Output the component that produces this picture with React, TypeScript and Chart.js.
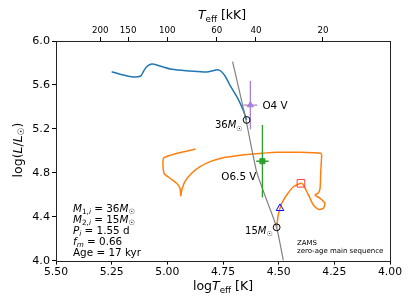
import React, { useEffect, useRef } from "react";
import { Chart, registerables } from "chart.js";

Chart.register(...registerables);

// ---- data ----
const blueTrackLogT = [5.250, 5.198, 5.153, 5.120, 5.108, 5.093, 5.070, 5.033, 4.980, 4.898, 4.823, 4.794, 4.776, 4.760, 4.741, 4.719, 4.688, 4.666, 4.651, 4.644];
const blueTrackLogL = [5.720, 5.690, 5.672, 5.681, 5.720, 5.766, 5.791, 5.772, 5.742, 5.727, 5.718, 5.730, 5.739, 5.727, 5.681, 5.599, 5.493, 5.402, 5.326, 5.281];

const orangeTrackLogT = [4.509, 4.502, 4.494, 4.486, 4.464, 4.434, 4.400, 4.389, 4.377, 4.359, 4.344, 4.322, 4.300, 4.292, 4.314, 4.337, 4.322, 4.314, 4.311, 4.307, 4.311, 4.404, 4.509, 4.629, 4.688, 4.749, 4.808, 4.853, 4.891, 4.921, 4.935, 4.940, 4.943, 4.958, 4.988, 5.015, 5.015, 4.873];
const orangeTrackLogL = [4.303, 4.415, 4.476, 4.522, 4.597, 4.673, 4.704, 4.689, 4.643, 4.567, 4.506, 4.467, 4.476, 4.522, 4.567, 4.597, 4.616, 4.658, 4.810, 4.962, 4.977, 4.986, 4.986, 4.968, 4.955, 4.937, 4.901, 4.855, 4.795, 4.719, 4.643, 4.591, 4.658, 4.704, 4.750, 4.795, 4.937, 5.016];

const zamsLogT = [4.707, 4.647, 4.599, 4.554, 4.509, 4.479];
const zamsLogL = [5.813, 5.281, 4.810, 4.552, 4.301, 4.000];

const primaryZamsPoint = [4.644, 5.281]; // 36 Msun
const secondaryZamsPoint = [4.509, 4.303]; // 15 Msun
const bluePointTL = [4.494, 4.476];
const redPointTL = [4.400, 4.704];

const starNames = ["O4 V", "O6.5 V"];
const starLogT = [4.627, 4.573];
const starLogL = [5.416, 4.905];
const starLogTErr = [0.031, 0.028];
const starLogLErr = [0.22, 0.33];
const starColors = ["#a880d6", "#2ca02c"];

const xTickStep = 0.25;
const yTickStep = 0.4;
const topTicksKK = [200, 150, 100, 60, 40, 20];

const FAM = '"DejaVu Sans", sans-serif';

type Seg = { t: string; it?: boolean; sub?: boolean };

function drawRich(ctx: CanvasRenderingContext2D, segs: Seg[], x: number, y: number, size: number, align: "left" | "right" | "center", color = "#000") {
  const fontFor = (s: Seg) => `${s.it ? "italic " : ""}${s.sub ? size * 0.7 : size}px ${FAM}`;
  let w = 0;
  for (const s of segs) {
    ctx.font = fontFor(s);
    w += ctx.measureText(s.t).width;
  }
  let cx = align === "left" ? x : align === "right" ? x - w : x - w / 2;
  ctx.fillStyle = color;
  ctx.textBaseline = "alphabetic";
  ctx.textAlign = "left";
  for (const s of segs) {
    ctx.font = fontFor(s);
    ctx.fillText(s.t, cx, s.sub ? y + size * 0.22 : y);
    cx += ctx.measureText(s.t).width;
  }
}

const toPts = (xs: number[], ys: number[]) => xs.map((x, i) => ({ x, y: ys[i] }));

export default function App() {
  const ref = useRef<HTMLCanvasElement>(null);
  useEffect(() => {
    if (!ref.current) return;
    const textPlugin = {
      id: "texts",
      afterDraw(chart: any) {
        const ctx = chart.ctx as CanvasRenderingContext2D;
        const xs = chart.scales.x;
        const ys = chart.scales.y;
        const ca = chart.chartArea;
        ctx.save();
        // frame
        ctx.strokeStyle = "#222";
        ctx.lineWidth = 1;
        ctx.strokeRect(Math.round(ca.left) + 0.5, Math.round(ca.top) + 0.5, Math.round(ca.right - ca.left), Math.round(ca.bottom - ca.top));

        const px = (t: number) => xs.getPixelForValue(t);
        const py = (l: number) => ys.getPixelForValue(l);

        // star labels
        drawRich(ctx, [{ t: starNames[0] }], px(starLogT[0]) + 12, py(starLogL[0]) + 4, 10.4, "left");
        drawRich(ctx, [{ t: starNames[1] }], px(starLogT[1]) - 6, py(starLogL[1]) + 15 + 4, 10.4, "right");

        // mass labels
        drawRich(ctx, [{ t: "36" }, { t: "M", it: true }, { t: "\u2609", sub: true }], px(primaryZamsPoint[0]) - 4, py(primaryZamsPoint[1]) + 8.5, 10, "right");
        drawRich(ctx, [{ t: "15" }, { t: "M", it: true }, { t: "\u2609", sub: true }], px(secondaryZamsPoint[0]) - 4, py(secondaryZamsPoint[1]) + 6.5, 10, "right");

        // ZAMS
        drawRich(ctx, [{ t: "ZAMS" }], 297, 244.5, 7, "left");
        drawRich(ctx, [{ t: "zero-age main sequence" }], 297, 252.5, 7, "left");

        // info box
        const bx = 73;
        const s = 10.4;
        drawRich(ctx, [{ t: "M", it: true }, { t: "1,", sub: true }, { t: "i", it: true, sub: true }, { t: " = 36" }, { t: "M", it: true }, { t: "\u2609", sub: true }], bx, 212, s, "left");
        drawRich(ctx, [{ t: "M", it: true }, { t: "2,", sub: true }, { t: "i", it: true, sub: true }, { t: " = 15" }, { t: "M", it: true }, { t: "\u2609", sub: true }], bx, 223, s, "left");
        drawRich(ctx, [{ t: "P", it: true }, { t: "i", it: true, sub: true }, { t: " = 1.55 d" }], bx, 234, s, "left");
        drawRich(ctx, [{ t: "f", it: true }, { t: "m", it: true, sub: true }, { t: " = 0.66" }], bx, 245, s, "left");
        drawRich(ctx, [{ t: "Age = 17 kyr" }], bx, 255.5, s, "left");

        // axis titles
        drawRich(ctx, [{ t: "log" }, { t: "T", it: true }, { t: "eff", sub: true }, { t: " [K]" }], 223, 290, 12.5, "center");
        drawRich(ctx, [{ t: "T", it: true }, { t: "eff", sub: true }, { t: " [kK]" }], 222, 19, 12.5, "center");
        ctx.save();
        ctx.translate(21.5, 150);
        ctx.rotate(-Math.PI / 2);
        drawRich(ctx, [{ t: "log(" }, { t: "L", it: true }, { t: "/" }, { t: "L", it: true }, { t: "\u2609", sub: true }, { t: ")" }], 0, 0, 12.5, "center");
        ctx.restore();
        ctx.restore();
      },
    };

    const datasets: any[] = [
      { data: toPts(blueTrackLogT, blueTrackLogL), showLine: true, borderColor: "#1f77b4", borderWidth: 1.5, pointRadius: 0, tension: 0.3, order: 8 },
      { data: toPts(orangeTrackLogT, orangeTrackLogL), showLine: true, borderColor: "#ff7f0e", borderWidth: 1.5, pointRadius: 0, tension: 0.2, order: 8 },
      { data: toPts(zamsLogT, zamsLogL), showLine: true, borderColor: "#808080", borderWidth: 1.2, pointRadius: 0, tension: 0.2, order: 7 },
    ];
    starNames.forEach((_, i) => {
      datasets.push({ data: [{ x: starLogT[i], y: starLogL[i] - starLogLErr[i] }, { x: starLogT[i], y: starLogL[i] + starLogLErr[i] }], showLine: true, borderColor: starColors[i], borderWidth: 1.3, pointRadius: 0, order: 5 });
      datasets.push({ data: [{ x: starLogT[i] - starLogTErr[i], y: starLogL[i] }, { x: starLogT[i] + starLogTErr[i], y: starLogL[i] }], showLine: true, borderColor: starColors[i], borderWidth: 1.3, pointRadius: 0, order: 5 });
      datasets.push({ data: [{ x: starLogT[i], y: starLogL[i] }], pointStyle: i === 0 ? "triangle" : "rect", pointRadius: i === 0 ? 3.5 : 3.6, backgroundColor: starColors[i], borderColor: starColors[i], borderWidth: 1, order: 4 });
    });
    datasets.push({ data: [{ x: primaryZamsPoint[0], y: primaryZamsPoint[1] }, { x: secondaryZamsPoint[0], y: secondaryZamsPoint[1] }], pointStyle: "circle", pointRadius: 3.4, backgroundColor: "rgba(0,0,0,0)", borderColor: "#000", borderWidth: 1, order: 2 });
    datasets.push({ data: [{ x: bluePointTL[0], y: bluePointTL[1] }], pointStyle: "triangle", pointRadius: 4.4, backgroundColor: "rgba(0,0,0,0)", borderColor: "#0000ff", borderWidth: 1, order: 2 });
    datasets.push({ data: [{ x: redPointTL[0], y: redPointTL[1] }], pointStyle: "rect", pointRadius: 5.4, backgroundColor: "rgba(0,0,0,0)", borderColor: "#ff4040", borderWidth: 1, order: 2 });

    const tickFont = { family: FAM, size: 10.8 };
    const chart = new Chart(ref.current, {
      type: "scatter",
      data: { datasets },
      options: {
        animation: false,
        responsive: false,
        devicePixelRatio: 1,
        layout: { padding: { left: 0, right: 25, top: 0, bottom: 0 } },
        plugins: { legend: { display: false }, tooltip: { enabled: false } },
        scales: {
          x: {
            type: "linear", position: "bottom", min: 4, max: 5.5, reverse: true,
            ticks: { stepSize: xTickStep, callback: (v: any) => Number(v).toFixed(2), font: tickFont, color: "#000", padding: 1, maxRotation: 0, autoSkip: false },
            grid: { drawOnChartArea: false, drawTicks: true, tickLength: 4, color: "#000" },
            border: { display: false },
            afterFit: (s: any) => { s.height = 47.4; },
          },
          x2: {
            type: "linear", position: "top", min: 4, max: 5.5, reverse: true,
            afterBuildTicks: (s: any) => { s.ticks = topTicksKK.map((k) => ({ value: Math.log10(k * 1000) })); },
            ticks: { callback: (_v: any, i: number) => String(topTicksKK[i]), font: { family: FAM, size: 8.7 }, color: "#000", padding: 1, maxRotation: 0, autoSkip: false },
            grid: { drawOnChartArea: false, drawTicks: true, tickLength: 4, color: "#000" },
            border: { display: false },
            afterFit: (s: any) => { s.height = 41; },
          },
          y: {
            type: "linear", min: 4, max: 6,
            ticks: { stepSize: yTickStep, callback: (v: any) => Number(v).toFixed(1), font: { family: FAM, size: 11.2 }, color: "#000", padding: 2 },
            grid: { drawOnChartArea: false, drawTicks: true, tickLength: 4, color: "#000" },
            border: { display: false },
            afterFit: (s: any) => { s.width = 56; },
          },
        },
      } as any,
      plugins: [textPlugin],
    });
    return () => chart.destroy();
  }, []);
  return (
    <div style={{ position: "absolute", left: 0, top: 0, width: 415, height: 308, background: "#fff" }}>
      <canvas ref={ref} width={415} height={308} />
    </div>
  );
}
